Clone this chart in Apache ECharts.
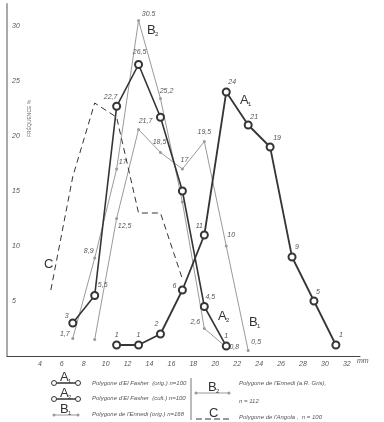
<!DOCTYPE html>
<html>
<head>
<meta charset="utf-8">
<script src="https://cdn.jsdelivr.net/npm/echarts@6/dist/echarts.min.js"></script>
<style>
  html, body { margin: 0; padding: 0; background: #fff; }
  #chart { width: 384px; height: 422px; }
</style>
</head>
<body>
<div id="chart"></div>
<script>
// polygones de fréquence (mm / %)
const mmA1 = [11, 13, 15, 17, 19, 21, 23, 25, 27, 29, 31];
const valA1 = [1, 1, 2, 6, 11, 24, 21, 19, 9, 5, 1];
const txtA1 = ['1', '1', '2', '6', '11', '24', '21', '19', '9', '5', '1'];

const mmA2 = [7, 9, 11, 13, 15, 17, 19, 21];
const valA2 = [3, 5.5, 22.7, 26.5, 21.7, 15, 4.5, 0.9];
const txtA2 = ['3', '5,5', '22,7', '26,5', '21,7', '', '4,5', '1'];

const mmB1 = [9, 11, 13, 15, 17, 19, 21, 23];
const valB1 = [1.5, 12.5, 20.6, 18.5, 17, 19.5, 10, 0.5];
const txtB1 = ['', '12,5', '', '18,5', '17', '19,5', '10', '0,5'];

const mmB2 = [7, 9, 11, 13, 15, 17, 19, 21];
const valB2 = [1.6, 8.9, 17, 30.5, 23.4, 14, 2.5, 0.8];
const txtB2 = ['1,7', '8,9', '17', '30.5', '25,2', '', '2,6', '0,8'];

const mmC = [5, 7, 9, 11, 13, 15, 17];
const valC = [6, 16.3, 23, 21.7, 13, 13, 7];
const txtC = ['6', '16', '23', '', '', '13', '7'];

const xTicks = [4, 6, 8, 10, 12, 14, 16, 18, 20, 22, 24, 26, 28, 30, 32];
const yTicks = [5, 10, 15, 20, 25, 30];

// label offsets from the point (px)
const offA1 = [[0, -10], [0, -10], [-4, -10], [-8, -4], [-5, -9], [6, -10], [6, -8], [7, -9], [5, -10], [4, -9], [5, -10]];
const offA2 = [[-6, -7], [8, -10], [-6, -9], [1, -12], [-15, 4], [0, 0], [6, -9], [0, -10]];
const offB1 = [[0, 0], [8, 8], [0, 0], [-1, -10], [2, -9], [0, -9], [5, -11], [8, -8]];
const offB2 = [[-8, -4], [-6, -7], [6, -7], [10, -6], [6, -8], [0, 0], [-9, -6], [8, 0]];
const offC = [[-5, -6], [-7, -4], [-3, -8], [0, 0], [0, 0], [3, -6], [2, -9]];

const FONT = '"Liberation Sans Narrow", "Liberation Sans", sans-serif';
const labelStyle = {
  show: true,
  position: 'inside',
  fontSize: 7,
  fontStyle: 'italic',
  fontFamily: FONT,
  color: '#555',
};

const buildData = (xs, ys, texts, offs) =>
  xs.map((x, i) => ({
    value: [x, ys[i]],
    label: { show: texts[i] !== '', formatter: texts[i], offset: offs[i] },
  }));

const chart = echarts.init(document.getElementById('chart'));

const dark = '#353535';
const grey = '#9a9a9a';

// letter with a small subscript, y = bottom of the text box
const sub = (letter, num, x, y) => {
  const out = [
    {
      type: 'text',
      x: x,
      y: y,
      style: { text: letter, font: '13px ' + FONT, fill: '#333', verticalAlign: 'bottom' },
    },
  ];
  if (num) {
    out.push({
      type: 'text',
      x: x + 8,
      y: y,
      style: { text: num, font: '6px ' + FONT, fill: '#333', verticalAlign: 'bottom' },
    });
  }
  return out;
};

const legendText = (text, x, y) => ({
  type: 'text',
  x: x,
  y: y,
  style: { text: text, font: 'italic 6px ' + FONT, fill: '#555', verticalAlign: 'middle' },
});

const legendGraphics = [
  // A1
  { type: 'line', shape: { x1: 54, y1: 383, x2: 78, y2: 383 }, style: { stroke: dark, lineWidth: 1.5 } },
  { type: 'circle', shape: { cx: 54, cy: 383, r: 2.5 }, style: { fill: '#fff', stroke: dark } },
  { type: 'circle', shape: { cx: 78, cy: 383, r: 2.5 }, style: { fill: '#fff', stroke: dark } },
  ...sub('A', '1', 60, 384),
  legendText("Polygone d'El Fasher  (orig.) n=100", 92, 383),
  // A2
  { type: 'line', shape: { x1: 54, y1: 399, x2: 78, y2: 399 }, style: { stroke: dark, lineWidth: 1.5 } },
  { type: 'circle', shape: { cx: 54, cy: 399, r: 2.5 }, style: { fill: '#fff', stroke: dark } },
  { type: 'circle', shape: { cx: 78, cy: 399, r: 2.5 }, style: { fill: '#fff', stroke: dark } },
  ...sub('A', '2', 60, 400),
  legendText("Polygone d'El Fasher  (cult.) n=100", 92, 398),
  // B1
  { type: 'line', shape: { x1: 54, y1: 415, x2: 78, y2: 415 }, style: { stroke: grey, lineWidth: 1 } },
  { type: 'circle', shape: { cx: 54, cy: 415, r: 1.5 }, style: { fill: grey } },
  { type: 'circle', shape: { cx: 78, cy: 415, r: 1.5 }, style: { fill: grey } },
  ...sub('B', '1', 60, 416),
  legendText("Polygone de l'Ennedi (orig.) n=168", 92, 414),
  // separator
  { type: 'line', shape: { x1: 191, y1: 378, x2: 191, y2: 420 }, style: { stroke: '#777', lineWidth: 1 } },
  // B2
  { type: 'line', shape: { x1: 196, y1: 393, x2: 229, y2: 393 }, style: { stroke: grey, lineWidth: 1 } },
  { type: 'circle', shape: { cx: 196, cy: 393, r: 1.5 }, style: { fill: grey } },
  { type: 'circle', shape: { cx: 229, cy: 393, r: 1.5 }, style: { fill: grey } },
  ...sub('B', '2', 208, 394),
  legendText("Polygone de l'Ennedi (a.R. Gris),", 239, 383),
  legendText('n = 112', 239, 401),
  // C
  { type: 'line', shape: { x1: 196, y1: 419, x2: 229, y2: 419 }, style: { stroke: dark, lineWidth: 1, lineDash: [6, 3] } },
  ...sub('C', '', 209, 420),
  legendText("Polygone de l'Angola ,  n = 100", 239, 417),
];

const option = {
  animation: false,
  backgroundColor: '#fff',
  grid: { left: 7, right: 24, top: 4, bottom: 66, containLabel: false },
  xAxis: {
    type: 'value',
    min: 1,
    max: 33.2,
    interval: 1,
    axisLine: { lineStyle: { color: '#444', width: 1 } },
    axisTick: { show: false },
    splitLine: { show: false },
    axisLabel: {
      margin: 5,
      fontSize: 7,
      fontStyle: 'italic',
      fontFamily: FONT,
      color: '#555',
      showMaxLabel: false,
      formatter: (v) => (xTicks.includes(v) ? String(v) : ''),
    },
  },
  yAxis: {
    type: 'value',
    min: 0,
    max: 32,
    interval: 5,
    axisLine: { show: true, lineStyle: { color: '#aaa', width: 2 } },
    axisTick: { show: false },
    splitLine: { show: false },
    axisLabel: {
      inside: true,
      margin: 5,
      fontSize: 7,
      fontStyle: 'italic',
      fontFamily: FONT,
      color: '#555',
      formatter: (v) => (yTicks.includes(v) ? String(v) : ''),
    },
  },
  graphic: [
    {
      type: 'text',
      x: 27,
      y: 137,
      rotation: Math.PI / 2,
      style: { text: 'FRÉQUENCE %', font: '5px ' + FONT, fill: '#666' },
    },
    { type: 'text', x: 357, y: 358, style: { text: 'mm', font: 'italic 7px ' + FONT, fill: '#555' } },
    ...sub('B', '2', 147, 37),
    ...sub('A', '1', 240, 107),
    ...sub('A', '2', 218, 323),
    ...sub('B', '1', 249, 329),
    ...sub('C', '', 44, 271),
    ...legendGraphics,
  ],
  series: [
    {
      name: 'B2',
      type: 'line',
      data: buildData(mmB2, valB2, txtB2, offB2),
      symbol: 'circle',
      symbolSize: 3,
      lineStyle: { color: grey, width: 1 },
      itemStyle: { color: grey },
      label: labelStyle,
      z: 2,
    },
    {
      name: 'B1',
      type: 'line',
      data: buildData(mmB1, valB1, txtB1, offB1),
      symbol: 'circle',
      symbolSize: 3,
      lineStyle: { color: grey, width: 1 },
      itemStyle: { color: grey },
      label: labelStyle,
      z: 2,
    },
    {
      name: 'C',
      type: 'line',
      data: buildData(mmC, valC, txtC, offC),
      symbol: 'none',
      showSymbol: false,
      lineStyle: { color: dark, width: 1, type: [6, 4] },
      label: labelStyle,
      z: 3,
    },
    {
      name: 'A2',
      type: 'line',
      data: buildData(mmA2, valA2, txtA2, offA2),
      symbol: 'emptyCircle',
      symbolSize: 7,
      lineStyle: { color: dark, width: 1.6 },
      itemStyle: { color: dark, borderWidth: 1 },
      label: labelStyle,
      z: 4,
    },
    {
      name: 'A1',
      type: 'line',
      data: buildData(mmA1, valA1, txtA1, offA1),
      symbol: 'emptyCircle',
      symbolSize: 7,
      lineStyle: { color: dark, width: 1.8 },
      itemStyle: { color: dark, borderWidth: 1 },
      label: labelStyle,
      z: 4,
    },
  ],
};

chart.setOption(option);
</script>
</body>
</html>
